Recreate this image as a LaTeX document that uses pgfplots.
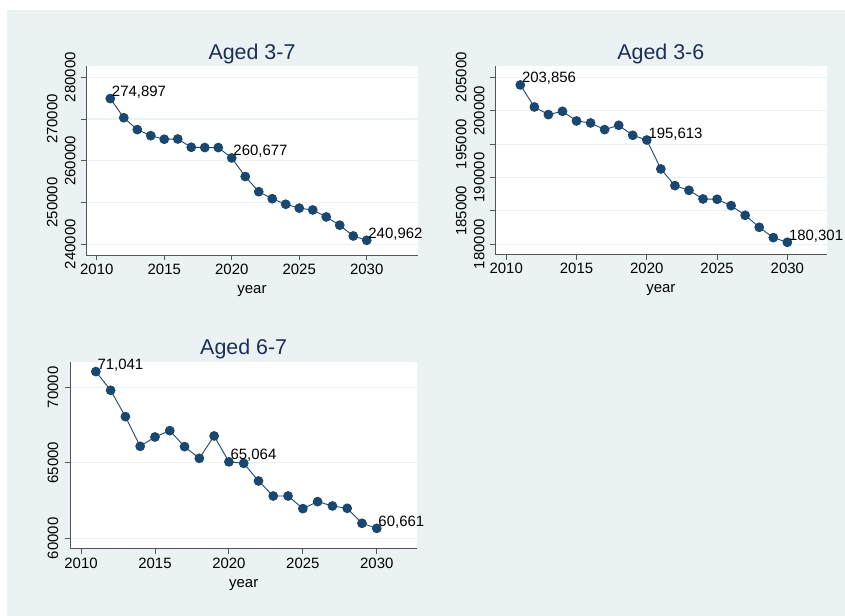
\documentclass[border=0pt]{standalone}
\usepackage{fontspec}
\setmainfont{Liberation Sans}
\usepackage{pgfplots}
\pgfplotsset{compat=1.18}
\definecolor{bgc}{HTML}{EAF2F3}
\definecolor{gridc}{HTML}{EAF2F3}
\definecolor{navyc}{HTML}{1A476F}
\definecolor{titc}{HTML}{1E2F55}
\definecolor{axgray}{HTML}{555555}
\newcommand{\fs}{\fontsize{15}{18}\selectfont}
\newcommand{\far}[1]{\raisebox{23bp}{#1}}
\newcommand{\nea}[1]{\raisebox{5bp}{#1}}
\pgfplotsset{
 stpanel/.style={
  scale only axis, enlargelimits=false, clip=false,
  axis x line*=bottom, axis y line*=left,
  axis line style={draw=axgray, line width=0.9bp},
  axis background/.style={fill=white},
  ymajorgrids, major grid style={draw=gridc, line width=1.1bp},
  tick align=outside, major tick length=5.5bp,
  every tick/.style={draw=axgray, line width=0.9bp},
  scaled y ticks=false, scaled x ticks=false,
  xtick={2010,2015,2020,2025,2030},
  xticklabels={2010,2015,2020,2025,2030},
  tick label style={font=\fs},
  yticklabel style={rotate=90, anchor=south, inner sep=0pt},
  title style={at={(axis description cs:0.5,1)}, anchor=center, yshift=6bp,
     font=\fontsize{21.5}{24}\selectfont, text=titc},
  xlabel style={at={(axis description cs:0.5,0)}, anchor=center, yshift=-36bp, font=\fs},
  xlabel=year,
 },
 serie/.style={color=navyc, line width=0.9bp, mark=*, mark size=4.4bp,
   mark options={fill=navyc, draw=navyc}},
 labs/.style={draw=none, mark=none, nodes near coords, point meta=explicit symbolic,
   nodes near coords align={anchor=base west},
   every node near coord/.append style={font=\fs, text=black, inner sep=0pt, xshift=1.5bp, yshift=2bp}},
}
\begin{document}
\begin{tikzpicture}
\fill[white] (0bp,0bp) rectangle (845bp,616bp);
\fill[bgc] (7bp,0bp) rectangle (845bp,606bp);

% Panel 1: Aged 3-7
\begin{axis}[stpanel, at={(86bp,361bp)}, anchor=south west, width=332bp, height=189bp,
  xmin=2009.2, xmax=2033.8, ymin=237437, ymax=282700,
  ytick={240000,250000,260000,270000,280000},
  yticklabels={\nea{240000},\far{250000},\nea{260000},\far{270000},\nea{280000}},
  title={Aged 3-7}]
\addplot[serie] table {
x y
2011 274897
2012 270310
2013 267466
2014 266015
2015 265160
2016 265220
2017 263235
2018 263170
2019 263160
2020 260677
2021 256225
2022 252597
2023 250910
2024 249585
2025 248660
2026 248220
2027 246550
2028 244580
2029 241993
2030 240962
};
\addplot[labs] table[meta=l] {
x y l
2011 274897 274,897
2020 260677 260,677
2030 240962 240,962
};
\end{axis}

% Panel 2: Aged 3-6
\begin{axis}[stpanel, at={(495bp,361.7bp)}, anchor=south west, width=331.7bp, height=188.3bp,
  xmin=2009.2, xmax=2032.8, ymin=178503, ymax=206692,
  ytick={180000,185000,190000,195000,200000,205000},
  yticklabels={\nea{180000},\far{185000},\nea{190000},\far{195000},\nea{200000},\far{205000}},
  title={Aged 3-6}]
\addplot[serie] table {
x y
2011 203856
2012 200559
2013 199411
2014 199910
2015 198463
2016 198164
2017 197166
2018 197815
2019 196318
2020 195613
2021 191278
2022 188783
2023 188084
2024 186787
2025 186737
2026 185789
2027 184341
2028 182545
2029 180998
2030 180301
};
\addplot[labs] table[meta=l] {
x y l
2011 203856 203,856
2020 195613 195,613
2030 180301 180,301
};
\end{axis}

% Panel 3: Aged 6-7
\begin{axis}[stpanel, at={(70.7bp,67.3bp)}, anchor=south west, width=346bp, height=187bp,
  xmin=2009.3, xmax=2032.7, ymin=59311, ymax=71695,
  ytick={60000,65000,70000}, yticklabels={\raisebox{7bp}{60000},\raisebox{7bp}{65000},\raisebox{7bp}{70000}},
  title={Aged 6-7}, title style={yshift=1bp}]
\addplot[serie] table {
x y
2011 71041
2012 69801
2013 68057
2014 66092
2015 66710
2016 67130
2017 66070
2018 65297
2019 66777
2020 65064
2021 64966
2022 63796
2023 62802
2024 62802
2025 61965
2026 62428
2027 62141
2028 61987
2029 60993
2030 60661
};
\addplot[labs] table[meta=l] {
x y l
2011 71041 71,041
2020 65064 65,064
2030 60661 60,661
};
\end{axis}
\pgfresetboundingbox
\path[use as bounding box] (0bp,0bp) rectangle (845bp,616bp);
\end{tikzpicture}
\end{document}
